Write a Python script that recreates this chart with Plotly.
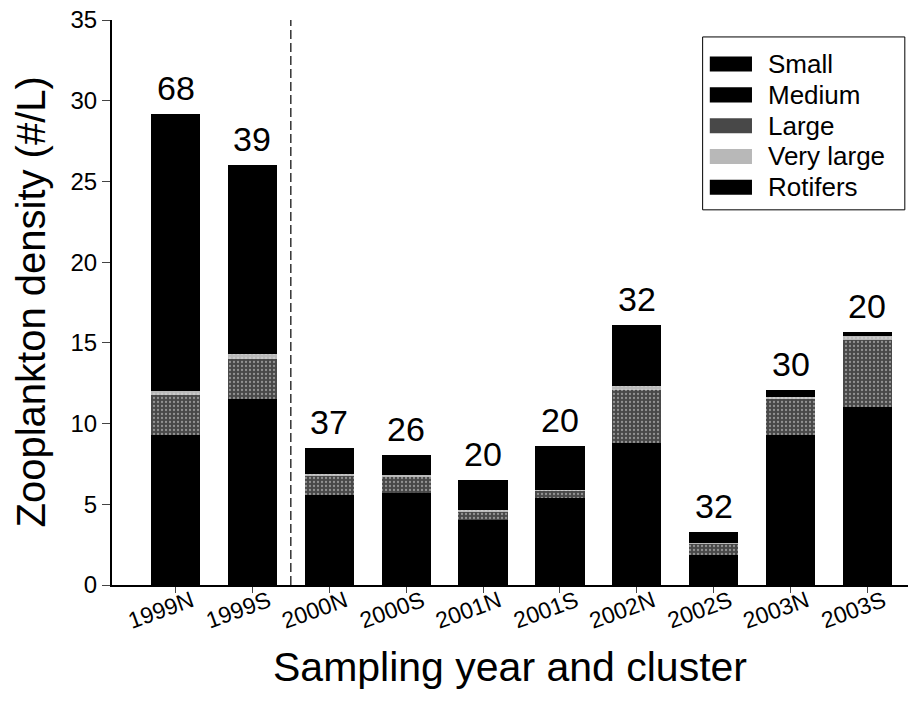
import plotly.graph_objects as go

# Sampling year / cluster and stacked zooplankton densities (#/L)
categories = ["1999N", "1999S", "2000N", "2000S", "2001N",
              "2001S", "2002N", "2002S", "2003N", "2003S"]
small = [5.0, 6.5, 3.2, 3.3, 2.4, 3.1, 5.0, 1.1, 5.3, 6.4]
medium = [4.3, 5.0, 2.4, 2.4, 1.6, 2.3, 3.8, 0.76, 4.0, 4.6]
large = [2.5, 2.5, 1.2, 1.0, 0.55, 0.45, 3.3, 0.7, 2.2, 4.2]
very_large = [0.2, 0.3, 0.1, 0.1, 0.1, 0.05, 0.2, 0.05, 0.15, 0.2]
rotifers = [17.2, 11.7, 1.6, 1.25, 1.85, 2.7, 3.8, 0.7, 0.45, 0.3]
n_samples = [68, 39, 37, 26, 20, 20, 32, 32, 30, 20]

series = [("Small", small, "black"),
          ("Medium", medium, "black"),
          ("Large", large, "#484848"),
          ("Very large", very_large, "#b8b8b8"),
          ("Rotifers", rotifers, "black")]

x = list(range(len(categories)))
totals = [sum(v) for v in zip(small, medium, large, very_large, rotifers)]

fig = go.Figure()
for name, vals, col in series:
    fig.add_trace(go.Bar(x=x, y=vals, name=name, width=0.64,
                         marker=dict(color=col, line=dict(width=0),
                                     pattern=dict(shape="." if col != "black" else "",
                                                  fgcolor="#dddddd", size=4, solidity=0.25)),
                         showlegend=False))

# sample counts above bars
for xi, tot, n in zip(x, totals, n_samples):
    fig.add_annotation(x=xi, y=tot, text=str(n), showarrow=False, yanchor="bottom",
                       yshift=5, font=dict(size=34, color="black"))

# dashed separator between 1999 and later years
sep = (categories.index("1999S") + categories.index("2000N")) / 2
fig.add_shape(type="line", x0=sep, x1=sep, y0=0, y1=35, xref="x", yref="y",
              line=dict(color="black", width=1.2, dash="9px,4px"))

# legend drawn as wide swatches
fig.add_shape(type="rect", xref="paper", yref="paper", x0=0.742, x1=0.996,
              y0=0.664, y1=0.970, line=dict(color="black", width=1), fillcolor="white")
for i, (name, vals, col) in enumerate(series):
    yc = 0.922 - i * 0.0545
    fig.add_shape(type="rect", xref="paper", yref="paper", x0=0.751, x1=0.804,
                  y0=yc - 0.0133, y1=yc + 0.0133, line=dict(width=0), fillcolor=col)
    fig.add_annotation(xref="paper", yref="paper", x=0.822, y=yc, text=name,
                       showarrow=False, xanchor="left", yanchor="middle",
                       font=dict(size=26, color="black"))

# y title as a rotated annotation so it can sit close to the page edge
fig.add_annotation(xref="paper", yref="paper", x=-0.103, y=0.5, text="Zooplankton density (#/L)",
                   textangle=-90, showarrow=False, xanchor="center", yanchor="middle",
                   font=dict(size=40, color="black"))

fig.update_layout(
    width=916, height=706,
    margin=dict(l=112, r=8, t=20, b=121),
    plot_bgcolor="white", paper_bgcolor="white",
    barmode="stack", bargap=0.36,
    font=dict(family="Liberation Sans, Arial, sans-serif", color="black"),
)
fig.update_xaxes(range=[-0.826, 9.527], tickmode="array", tickvals=x, ticktext=categories,
                 tickangle=-20, tickfont=dict(size=23), ticks="outside", ticklen=6,
                 ticklabelshift=16, ticklabelstandoff=-14,
                 showline=True, linecolor="black", linewidth=2, showgrid=False, automargin=False,
                 title=dict(text="Sampling year and cluster", font=dict(size=41), standoff=20))
fig.update_yaxes(range=[0, 35], dtick=5, tickfont=dict(size=24), ticks="outside", ticklen=8,
                 ticklabeloverflow="allow",
                 showline=True, linecolor="black", linewidth=2, showgrid=False, zeroline=False,
                 automargin=False)

# drop the default 8px body margin so the figure sits at the page corner
fig.write_html("out.html", config={"displayModeBar": False},
               post_script="document.body.style.margin='0';")
